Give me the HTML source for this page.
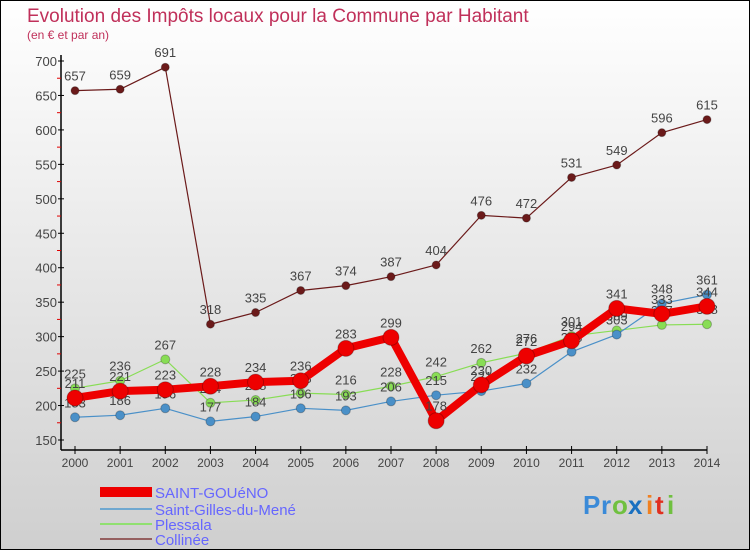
<!DOCTYPE html>
<html><head><meta charset="utf-8"><style>
body{margin:0;width:750px;height:550px;overflow:hidden;font-family:"Liberation Sans",sans-serif}
svg{display:block}
</style></head><body>
<svg id="chart" width="750" height="550" viewBox="0 0 750 550">
<defs><linearGradient id="bg" x1="0" y1="0" x2="0" y2="1"><stop offset="0" stop-color="#ffffff"/><stop offset="1" stop-color="#cfcfcf"/></linearGradient></defs>
<rect x="0.5" y="0.5" width="749" height="549" fill="url(#bg)" stroke="#000"/>
<text x="27" y="22" font-size="19" fill="#c0305a">Evolution des Impôts locaux pour la Commune par Habitant</text>
<text x="27" y="39" font-size="12" fill="#c0305a">(en € et par an)</text>
<g id="axes"></g>
<g id="series"></g>
<g id="legend" font-size="15" fill="#6666ff">
<rect x="100" y="487" width="52" height="10" fill="#ee0000"/>
<text x="155" y="498">SAINT-GOUéNO</text>
<rect x="100" y="508" width="52" height="2" fill="#6fa8d0"/>
<text x="155" y="515">Saint-Gilles-du-Mené</text>
<rect x="100" y="523" width="52" height="2" fill="#90e070"/>
<text x="155" y="530">Plessala</text>
<rect x="100" y="538" width="52" height="2" fill="#956060"/>
<text x="155" y="545">Collinée</text>
</g>
<g font-size="26" font-weight="bold">
<text x="583" y="514" fill="#3a8ad8">P</text><text x="601" y="514" fill="#3a8ad8">r</text><text x="612" y="514" fill="#70c040">o</text><text x="628" y="514" fill="#1a70c0">x</text><text x="646" y="514" fill="#f08020">i</text><text x="655" y="514" fill="#e03020">t</text><text x="667" y="514" fill="#70c040">i</text>
</g>
</svg>
<script>
const years=[2000,2001,2002,2003,2004,2005,2006,2007,2008,2009,2010,2011,2012,2013,2014];
const yTicks=[150,200,250,300,350,400,450,500,550,600,650,700];
const saintGoueno=[211,221,223,228,234,236,283,299,178,230,272,294,341,333,344];
const saintGilles=[183,186,196,177,184,196,193,206,215,221,232,278,303,348,361];
const plessala=[225,236,267,204,208,218,216,228,242,262,276,301,309,317,318];
const collinee=[657,659,691,318,335,367,374,387,404,476,472,531,549,596,615];
const NS='http://www.w3.org/2000/svg';
function xS(i){return 75+i*(707-75)/(years.length-1);}
function yS(v){return 440-(v-150)*(440-61)/550;}
function mk(t,a,p){const e=document.createElementNS(NS,t);for(const k in a)e.setAttribute(k,a[k]);p.appendChild(e);return e;}
const ax=document.getElementById('axes');
let l=mk('line',{x1:61,y1:55,x2:61,y2:450,stroke:'#000','stroke-width':1.5},ax);


l=mk('line',{x1:61,y1:450,x2:707,y2:450,stroke:'#000','stroke-width':1.5},ax);


yTicks.forEach(v=>{const y=yS(v);
 mk('line',{x1:58,y1:y,x2:64,y2:y,stroke:'#000'},ax);
 if(v<700)mk('line',{x1:57,y1:yS(v+25),x2:61,y2:yS(v+25),stroke:'#e00000'},ax);
 const t=mk('text',{x:57,y:y+5,'text-anchor':'end','font-size':13,fill:'#444'},ax);t.textContent=v;
 
 });
years.forEach((yr,i)=>{const x=xS(i);
 mk('line',{x1:x,y1:446,x2:x,y2:454,stroke:'#000'},ax);
 const t=mk('text',{x:x,y:467,'text-anchor':'middle','font-size':12,fill:'#444'},ax);t.textContent=yr;
 
 });
const sg=document.getElementById('series');
function draw(vals,color,w,r,name){
 const g=mk('g',{},sg);
 
 
 mk('polyline',{points:vals.map((v,i)=>xS(i)+','+yS(v)).join(' '),fill:'none',stroke:color,'stroke-width':w,'stroke-linejoin':'round'},g);
 vals.forEach((v,i)=>{const c=mk('circle',{cx:xS(i),cy:yS(v),r:r,fill:color,stroke:'rgba(0,0,0,0.25)'},g);
  
  
  const t=mk('text',{x:xS(i),y:yS(v)-10,'text-anchor':'middle','font-size':13,fill:'#444'},g);t.textContent=v;
  
  });
}
draw(collinee,'#6b1a1a',1.2,4,'collinee');
draw(plessala,'#88dd55',1.2,4.5,'plessala');
draw(saintGilles,'#4a90c8',1.2,4.5,'saint-gilles');
draw(saintGoueno,'#ee0000',8,8,'saint-goueno');
</script>
</body></html>
